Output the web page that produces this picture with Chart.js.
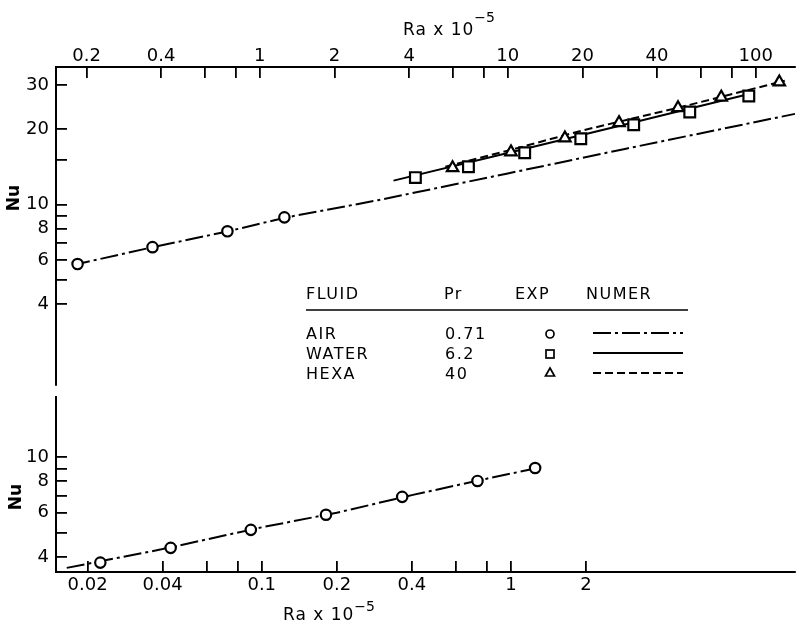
<!DOCTYPE html>
<html>
<head>
<meta charset="utf-8">
<script src="https://cdn.jsdelivr.net/npm/chart.js@4.4.1/dist/chart.umd.min.js"></script>
<style>
  html, body { margin: 0; padding: 0; background: #fff; }
  canvas { display: block; }
</style>
</head>
<body>
<canvas id="grafico" width="805" height="623"></canvas>
<script>
// panel superior (eje Ra x 10^-5 arriba)
const airRa = [0.184, 0.369, 0.74, 1.256];
const airNu = [5.78, 6.75, 7.81, 8.88];
const waterRa = [4.24, 6.94, 11.7, 19.7, 32.2, 54.2, 93.8];
const waterNu = [12.8, 14.15, 16.1, 18.3, 20.8, 23.4, 27.1];
const hexaRa = [5.99, 10.3, 17.0, 28.1, 48.6, 72.6, 124.5];
const hexaNu = [14.0, 16.2, 18.4, 21.2, 24.3, 26.8, 30.8];
// curvas numericas
const airNumRa = [0.175, 0.37, 0.74, 1.26, 3, 10, 30, 144];
const airNumNu = [5.72, 6.75, 7.8, 8.85, 10.4, 13.3, 16.7, 23.0];
const waterNumRa = [3.46, 10, 30, 94];
const waterNumNu = [12.45, 16.05, 20.9, 27.6];
const hexaNumRa = [5.6, 10, 20, 50, 131];
const hexaNumNu = [14.15, 16.4, 19.75, 24.5, 31.2];
// panel inferior (eje abajo)
const airLowRa = [0.0225, 0.0431, 0.0904, 0.181, 0.366, 0.734, 1.25];
const airLowNu = [3.8, 4.35, 5.13, 5.89, 6.94, 8.03, 9.04];
const airLowNumRa = [0.0165, 0.04, 0.1, 0.2, 0.4, 0.8, 1.25];
const airLowNumNu = [3.62, 4.3, 5.25, 6.0, 7.05, 8.2, 9.0];

// ticks
const topTicks = [0.2, 0.4, 0.6, 0.8, 1, 2, 4, 6, 8, 10, 20, 40, 60, 80, 100];
const topLabels = ['0.2', '0.4', '', '', '1', '2', '4', '', '', '10', '20', '40', '', '', '100'];
const botTicks = [0.02, 0.04, 0.06, 0.08, 0.1, 0.2, 0.4, 0.6, 0.8, 1, 2];
const botLabels = ['0.02', '0.04', '', '', '0.1', '0.2', '0.4', '', '', '1', '2'];
const upTicks = [4, 5, 6, 7, 8, 9, 10, 15, 20, 30];
const upLabels = ['4', '', '6', '', '8', '', '10', '', '20', '30'];
const lowTicks = [4, 5, 6, 7, 8, 9, 10];
const lowLabels = ['4', '', '6', '', '8', '', '10'];

// tabla de leyenda
const encabezado = ['FLUID', 'Pr', 'EXP', 'NUMER'];
const fluidos = ['AIR', 'WATER', 'HEXA'];
const prandtl = ['0.71', '6.2', '40'];

const dashAir = [18, 4, 3, 4];
const dashHexa = [8, 4];

Chart.defaults.font.family = '"DejaVu Sans"';
Chart.defaults.color = '#000';

const puntos = (xs, ys) => xs.map((x, i) => ({x: x, y: ys[i]}));

function marcador(label, xs, ys, estilo, radio, xId, yId) {
  return {
    label: label, data: puntos(xs, ys), xAxisID: xId, yAxisID: yId,
    showLine: false, pointStyle: estilo, pointRadius: radio, pointHoverRadius: radio,
    backgroundColor: '#fff', borderColor: '#000', pointBorderWidth: 2.2, order: 0
  };
}
function curva(label, xs, ys, dash, xId, yId) {
  return {
    label: label, data: puntos(xs, ys), xAxisID: xId, yAxisID: yId,
    showLine: true, pointRadius: 0, borderColor: '#000', borderWidth: 2,
    borderDash: dash, tension: 0, order: 1
  };
}

function ejeX(pos, min, max, valores, etiquetas, alto, pad) {
  return {
    type: 'logarithmic', position: pos, min: min, max: max, bounds: 'data',
    afterBuildTicks: s => { s.ticks = valores.map(v => ({value: v})); },
    afterFit: s => { s.height = alto; },
    border: {display: true, color: '#000', width: 2},
    grid: {drawOnChartArea: false, drawTicks: true, tickLength: -11, color: '#000', lineWidth: 1.8},
    ticks: {autoSkip: false, maxRotation: 0, minRotation: 0, padding: pad, font: {size: 18}, color: '#000',
      callback: (v, i) => etiquetas[i]}
  };
}
function ejeY(min, max, valores, etiquetas, peso, alto) {
  return {
    type: 'logarithmic', position: 'left', stack: 'nu', stackWeight: alto, weight: peso,
    min: min, max: max, bounds: 'data',
    afterBuildTicks: s => { s.ticks = valores.map(v => ({value: v})); },
    afterFit: s => { s.width = 56; },
    border: {display: true, color: '#000', width: 2},
    grid: {drawOnChartArea: false, drawTicks: true, tickLength: -11, color: '#000', lineWidth: 1.8},
    ticks: {autoSkip: false, padding: 18, font: {size: 18}, color: '#000',
      callback: (v, i) => etiquetas[i]}
  };
}

const textos = {
  id: 'textos',
  afterDraw(chart) {
    const ctx = chart.ctx;
    ctx.save();
    ctx.fillStyle = '#000';
    ctx.strokeStyle = '#000';

    // titulos Ra x 10^-5
    const tituloRa = (x, y, sube) => {
      ctx.font = '17px "DejaVu Sans"';
      ctx.letterSpacing = '1px';
      ctx.textAlign = 'left';
      ctx.textBaseline = 'alphabetic';
      ctx.fillText('Ra x 10', x, y);
      const w = ctx.measureText('Ra x 10').width;
      ctx.font = '14px "DejaVu Sans"';
      ctx.letterSpacing = '0px';
      ctx.fillText('\u22125', x + w, y - sube);
    };
    tituloRa(403, 35, 13);
    tituloRa(283, 620, 9);

    // Nu
    const tituloNu = (x, y) => {
      ctx.save();
      ctx.translate(x, y);
      ctx.rotate(-Math.PI / 2);
      ctx.font = 'bold 17px "DejaVu Sans"';
      ctx.textAlign = 'center';
      ctx.textBaseline = 'middle';
      ctx.fillText('Nu', 0, 0);
      ctx.restore();
    };
    tituloNu(15, 198);
    tituloNu(17, 497);

    // tabla
    ctx.font = '16px "DejaVu Sans"';
    ctx.letterSpacing = '1.5px';
    ctx.textAlign = 'left';
    ctx.textBaseline = 'alphabetic';
    const cols = [306, 444, 515, 586];
    encabezado.forEach((t, i) => ctx.fillText(t, cols[i], 299));
    ctx.lineWidth = 1.6;
    ctx.beginPath();
    ctx.moveTo(306, 310);
    ctx.lineTo(688, 310);
    ctx.stroke();

    const filas = [339, 359, 379];
    fluidos.forEach((t, i) => {
      ctx.fillText(t, 306, filas[i]);
      ctx.fillText(prandtl[i], 445, filas[i]);
    });
    ctx.letterSpacing = '0px';

    // simbolos EXP
    ctx.lineWidth = 1.7;
    ctx.beginPath();
    ctx.arc(550, 334, 4, 0, Math.PI * 2);
    ctx.stroke();
    ctx.strokeRect(546, 350, 8, 8);
    ctx.beginPath();
    ctx.moveTo(550, 368);
    ctx.lineTo(554.5, 376);
    ctx.lineTo(545.5, 376);
    ctx.closePath();
    ctx.stroke();

    // lineas NUMER
    const dashes = [dashAir, [], dashHexa];
    const ys = [333, 353, 373];
    ctx.lineWidth = 1.8;
    dashes.forEach((d, i) => {
      ctx.setLineDash(d);
      ctx.beginPath();
      ctx.moveTo(593, ys[i]);
      ctx.lineTo(683, ys[i]);
      ctx.stroke();
    });
    ctx.setLineDash([]);
    ctx.restore();
  }
};

new Chart(document.getElementById('grafico'), {
  type: 'scatter',
  data: {
    datasets: [
      marcador('AIR', airRa, airNu, 'circle', 5.2, 'xTop', 'yUp'),
      marcador('WATER', waterRa, waterNu, 'rect', 7.6, 'xTop', 'yUp'),
      marcador('HEXA', hexaRa, hexaNu, 'triangle', 6.6, 'xTop', 'yUp'),
      marcador('AIR low', airLowRa, airLowNu, 'circle', 5.2, 'xBot', 'yLow'),
      curva('AIR numer', airNumRa, airNumNu, dashAir, 'xTop', 'yUp'),
      curva('WATER numer', waterNumRa, waterNumNu, [], 'xTop', 'yUp'),
      curva('HEXA numer', hexaNumRa, hexaNumNu, dashHexa, 'xTop', 'yUp'),
      curva('AIR low numer', airLowNumRa, airLowNumNu, dashAir, 'xBot', 'yLow')
    ]
  },
  options: {
    responsive: false,
    animation: false,
    devicePixelRatio: 1,
    layout: {padding: 0},
    plugins: {legend: {display: false}, tooltip: {enabled: false}},
    scales: {
      xTop: ejeX('top', 0.1506, 144.3, topTicks, topLabels, 67, 11),
      xBot: ejeX('bottom', 0.01494, 13.82, botTicks, botLabels, 51, 14),
      yUp: ejeY(1.90, 35.4, upTicks, upLabels, 2, 318),
      yGap: {
        type: 'linear', position: 'left', stack: 'nu', stackWeight: 12, weight: 1,
        afterFit: s => { s.width = 56; },
        border: {display: false}, grid: {display: false}, ticks: {display: false}
      },
      yLow: ejeY(3.486, 17.33, lowTicks, lowLabels, 0, 175)
    }
  },
  plugins: [textos]
});
</script>
</body>
</html>
